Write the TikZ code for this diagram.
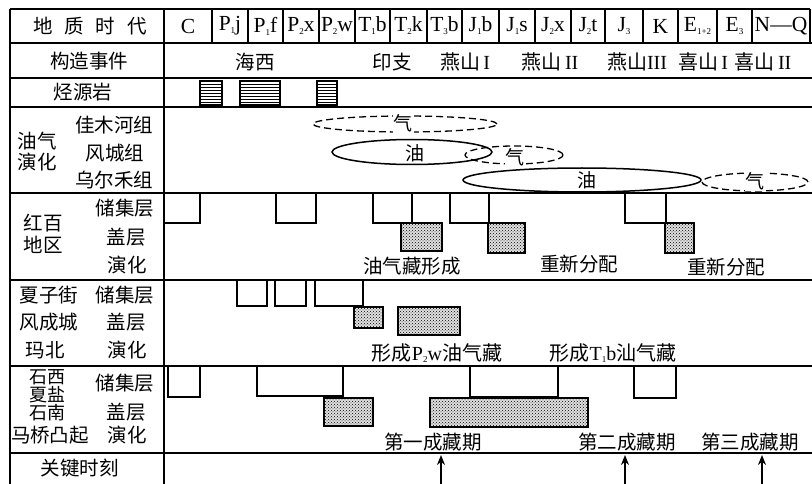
\documentclass[tikz,border=0pt]{standalone}
\usepackage{fontspec}
\setmainfont{Liberation Serif}
\newfontfamily\cjk{Noto Sans CJK SC}
\usetikzlibrary{patterns,arrows.meta}
\newcommand\sbs[1]{\raisebox{-0.3ex}{\fontsize{9}{9}\selectfont #1}}
\begin{document}
\begin{tikzpicture}[x=1pt,y=-1pt,
 gridline/.style={line width=1.4pt},
 cn/.style={font=\cjk\fontsize{19.5}{21}\selectfont, inner sep=0pt},
 cns/.style={font=\cjk\fontsize{18}{19}\selectfont, inner sep=0pt},
 lat/.style={font=\fontsize{21.5}{23}\selectfont, inner sep=0pt},
 mix/.style={font=\fontsize{20}{22}\selectfont, inner sep=0pt},
 resbox/.style={draw, line width=1.6pt},
 capbox/.style={draw, line width=2.2pt, preaction={fill=black!12}, pattern=crosshatch dots, pattern color=black},
 srcbox/.style={draw, line width=1.2pt},
 gasell/.style={draw, dash pattern=on 7pt off 4pt, line width=1.3pt},
 oilell/.style={draw, line width=1.5pt},
 lbl/.style={fill=white, inner sep=1pt, font=\cjk\fontsize{19}{21}\selectfont},
 keyarrow/.style={-{Stealth[length=10pt,width=8pt]}, line width=2.2pt}]
\useasboundingbox (0,0) rectangle (812,484);
% grid
\draw[gridline] (10,9) -- (810,9);
\foreach \y in {43,78,107,193,280,366,453} \draw[gridline] (10,\y) -- (812,\y);
\draw[gridline] (10,9) -- (10,484);
\draw[gridline] (164,9) -- (164,484);
\foreach \x in {212,248,283,319,355,390,427,462,499,535,571,605,643,678,717,752,810}
  \draw[gridline] (\x,9) -- (\x,43);
% header
\node[cn] (h0) at (90,26) {地\hspace{0.6em}质\hspace{0.6em}时\hspace{0.6em}代};
\node[lat] (c1) at (188,26) {C};
\node[lat] (c2) at (230,26) {P\sbs{1}j};
\node[lat] (c3) at (265.5,26) {P\sbs{1}f};
\node[lat] (c4) at (301,26) {P\sbs{2}x};
\node[lat] (c5) at (337,26) {P\sbs{2}w};
\node[lat] (c6) at (372.5,26) {T\sbs{1}b};
\node[lat] (c7) at (408.5,26) {T\sbs{2}k};
\node[lat] (c8) at (444.5,26) {T\sbs{3}b};
\node[lat] (c9) at (480.5,26) {J\sbs{1}b};
\node[lat] (c10) at (517,26) {J\sbs{1}s};
\node[lat] (c11) at (553,26) {J\sbs{2}x};
\node[lat] (c12) at (588,26) {J\sbs{2}t};
\node[lat] (c13) at (624,26) {J\sbs{3}};
\node[lat] (c14) at (660.5,26) {K};
\node[lat] (c15) at (697.5,26) {E\sbs{1+2}};
\node[lat] (c16) at (734.5,26) {E\sbs{3}};
\node[lat] (c17) at (781,26) {N---Q};
% row 2
\node[cn] (r2) at (89,61) {构造事件};
\node[cn] (e1) at (255,62) {海西};
\node[cn] (e2) at (392,62) {印支};
\node[mix] (e3) at (465,62) {{\cjk 燕山}\,I};
\node[mix] (e4) at (550,62) {{\cjk 燕山}\,II};
\node[mix] (e5) at (637,62) {{\cjk 燕山}III};
\node[mix] (e6) at (703,62) {{\cjk 喜山}\,I};
\node[mix] (e7) at (763,62) {{\cjk 喜山}\,II};
% row 3
\node[cn] (r3) at (83,92) {烃源岩};
\foreach \a/\b in {200/222,240/280,317/337}{
  \draw[srcbox] (\a,81) rectangle (\b,105);
  \foreach \yy in {84,87,...,102} \draw[line width=0.8pt] (\a,\yy) -- (\b,\yy);
}
% row 4
\node[cn] (r4a) at (37,141) {油气};
\node[cn] (r4b) at (37,162) {演化};
\node[cn] (f1) at (114,125) {佳木河组};
\node[cn] (f2) at (115,153) {风城组};
\node[cn] (f3) at (114,180) {乌尔禾组};
\draw[gasell] (405,124) ellipse [x radius=92pt, y radius=8pt];
\node[lbl] (g1) at (403,123) {气};
\draw[oilell] (412,152) ellipse [x radius=80pt, y radius=12.5pt];
\node[lbl] (o1) at (415,153) {油};
\draw[gasell] (514,155) ellipse [x radius=49pt, y radius=9pt];
\node[lbl] (g2) at (515,157) {气};
\draw[oilell] (582,180) ellipse [x radius=119pt, y radius=12pt];
\node[lbl] (o2) at (587,180) {油};
\draw[gasell] (755,182) ellipse [x radius=53pt, y radius=9pt];
\node[lbl] (g3) at (755,181) {气};
% row 5
\node[cn] (r5a) at (43,223) {红百};
\node[cn] (r5b) at (43,245) {地区};
\node[cn] (r5c) at (125,208) {储集层};
\node[cn] (r5d) at (126,237) {盖层};
\node[cn] (r5e) at (127,265) {演化};
\foreach \a/\b in {164/200,276/316,373/412,450/489,625/666} \draw[resbox] (\a,193) rectangle (\b,223);
\foreach \a/\b/\c in {401/442/251,488/525/253,665/694/253} \draw[capbox] (\a,223) rectangle (\b,\c);
\node[cn] (t5a) at (412,266) {油气藏形成};
\node[cn] (t5b) at (579,264) {重新分配};
\node[cn] (t5c) at (726,267) {重新分配};
% row 6
\node[cn] (r6a) at (49,295) {夏子街};
\node[cn] (r6b) at (49,322) {风成城};
\node[cn] (r6c) at (45,350) {玛北};
\node[cn] (r6d) at (125,295) {储集层};
\node[cn] (r6e) at (126,322) {盖层};
\node[cn] (r6f) at (127,350) {演化};
\foreach \a/\b in {237/267,275/306,315/363} \draw[resbox] (\a,280) rectangle (\b,306);
\draw[capbox] (354,307) rectangle (383,328);
\draw[capbox] (398,307) rectangle (460,335);
\node[mix] (t6a) at (437,353) {{\cjk 形成}P\sbs{2}w{\cjk 油气藏}};
\node[mix] (t6b) at (613,353) {{\cjk 形成}T\sbs{1}b{\cjk 汕气藏}};
% row 7
\node[cns] (r7a) at (47,377) {石西};
\node[cns] (r7b) at (47,395) {夏盐};
\node[cns] (r7c) at (47,413) {石南};
\node[cn] (r7d) at (50,435) {马桥凸起};
\node[cn] (r7e) at (125,383) {储集层};
\node[cn] (r7f) at (126,412) {盖层};
\node[cn] (r7g) at (127,435) {演化};
\draw[resbox] (168,366) rectangle (200,397);
\draw[resbox] (257,366) rectangle (343,396);
\draw[resbox] (470,366) rectangle (558,397);
\draw[resbox] (634,366) rectangle (676,398);
\draw[capbox] (324,398) rectangle (373,426);
\draw[capbox] (430,398) rectangle (588,427);
\node[cn] (t7a) at (433,442) {第一成藏期};
\node[cn] (t7b) at (627,442) {第二成藏期};
\node[cn] (t7c) at (750,442) {第三成藏期};
% row 8
\node[cn] (r8) at (80,468) {关键时刻};
\foreach \n/\x in {1/441,2/625,3/762}{
  \coordinate (s\n) at (\x,484);
  \coordinate (e\n) at (\x,455);
  \draw[keyarrow] (s\n) -- (e\n);
}
\end{tikzpicture}
\end{document}
